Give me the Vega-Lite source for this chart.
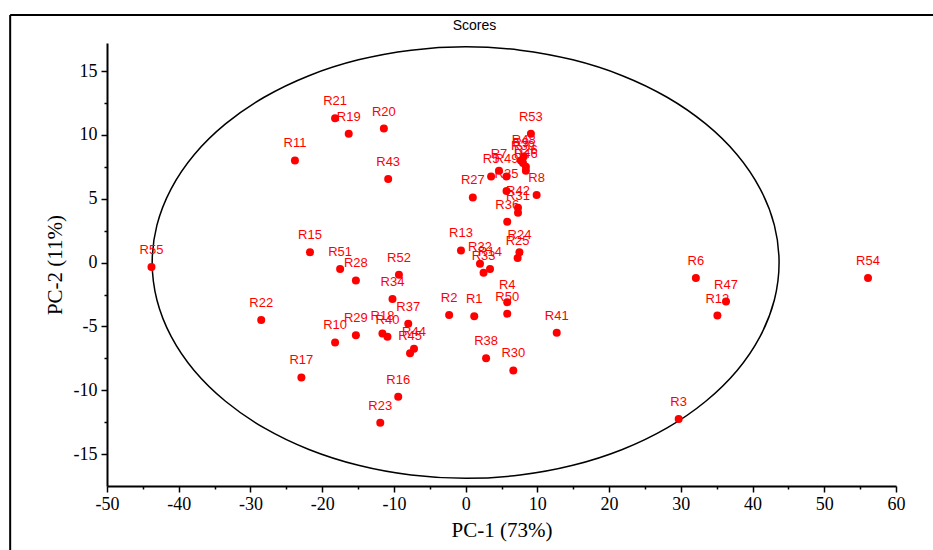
{
  "$schema": "https://vega.github.io/schema/vega-lite/v6.json",
  "width": 789,
  "height": 443,
  "autosize": {"type": "none"},
  "padding": {"left": 107, "top": 43, "right": 37, "bottom": 64},
  "background": "white",
  "config": {"view": {"stroke": null}},
  "title": {"text": "Scores", "font": "Liberation Sans", "fontSize": 14, "fontWeight": "normal", "color": "black", "offset": -19, "dx": -27},
  "datasets": {
    "frame": [
      {"x1": -63.5, "x2": 80, "y1": 19.4, "y2": -30}
    ],
    "scores": [
      {"name": "R1", "pc1": 1.2, "pc2": -4.2},
      {"name": "R2", "pc1": -2.3, "pc2": -4.1},
      {"name": "R3", "pc1": 29.7, "pc2": -12.25},
      {"name": "R4", "pc1": 5.8, "pc2": -3.1},
      {"name": "R5", "pc1": 3.55, "pc2": 6.75},
      {"name": "R6", "pc1": 32.1, "pc2": -1.2},
      {"name": "R7", "pc1": 4.65, "pc2": 7.2},
      {"name": "R8", "pc1": 9.9, "pc2": 5.3},
      {"name": "R9", "pc1": 7.7, "pc2": 8.0},
      {"name": "R10", "pc1": -18.2, "pc2": -6.25},
      {"name": "R11", "pc1": -23.8, "pc2": 8.0},
      {"name": "R12", "pc1": 35.1, "pc2": -4.15},
      {"name": "R13", "pc1": -0.65, "pc2": 0.95},
      {"name": "R14", "pc1": 3.4, "pc2": -0.5},
      {"name": "R15", "pc1": -21.7, "pc2": 0.8},
      {"name": "R16", "pc1": -9.4, "pc2": -10.5},
      {"name": "R17", "pc1": -22.9, "pc2": -9.0},
      {"name": "R18", "pc1": -11.6, "pc2": -5.55},
      {"name": "R19", "pc1": -16.3, "pc2": 10.1},
      {"name": "R20", "pc1": -11.4, "pc2": 10.5},
      {"name": "R21", "pc1": -18.2, "pc2": 11.3},
      {"name": "R22", "pc1": -28.5, "pc2": -4.5},
      {"name": "R23", "pc1": -11.9, "pc2": -12.55},
      {"name": "R24", "pc1": 7.5, "pc2": 0.8},
      {"name": "R25", "pc1": 7.25, "pc2": 0.35},
      {"name": "R26", "pc1": 8.4, "pc2": 7.5},
      {"name": "R27", "pc1": 1.0, "pc2": 5.1},
      {"name": "R28", "pc1": -15.3, "pc2": -1.4},
      {"name": "R29", "pc1": -15.3, "pc2": -5.7},
      {"name": "R30", "pc1": 6.65, "pc2": -8.45},
      {"name": "R31", "pc1": 7.3, "pc2": 3.9},
      {"name": "R32", "pc1": 2.0, "pc2": -0.1},
      {"name": "R33", "pc1": 2.5, "pc2": -0.8},
      {"name": "R34", "pc1": -10.2, "pc2": -2.85},
      {"name": "R35", "pc1": 5.7, "pc2": 5.6},
      {"name": "R36", "pc1": 5.8, "pc2": 3.2},
      {"name": "R37", "pc1": -8.0, "pc2": -4.8},
      {"name": "R38", "pc1": 2.85, "pc2": -7.5},
      {"name": "R39", "pc1": 8.0, "pc2": 7.8},
      {"name": "R40", "pc1": -10.9, "pc2": -5.8},
      {"name": "R41", "pc1": 12.7, "pc2": -5.5},
      {"name": "R42", "pc1": 7.3, "pc2": 4.3},
      {"name": "R43", "pc1": -10.8, "pc2": 6.55},
      {"name": "R44", "pc1": -7.2, "pc2": -6.75},
      {"name": "R45", "pc1": -7.75, "pc2": -7.1},
      {"name": "R46", "pc1": 8.4, "pc2": 7.2},
      {"name": "R47", "pc1": 36.3, "pc2": -3.05},
      {"name": "R48", "pc1": 8.1, "pc2": 8.3},
      {"name": "R49", "pc1": 5.7, "pc2": 6.75},
      {"name": "R50", "pc1": 5.8, "pc2": -4.0},
      {"name": "R51", "pc1": -17.5, "pc2": -0.5},
      {"name": "R52", "pc1": -9.3, "pc2": -0.95},
      {"name": "R53", "pc1": 9.1, "pc2": 10.1},
      {"name": "R54", "pc1": 56.1, "pc2": -1.2},
      {"name": "R55", "pc1": -43.8, "pc2": -0.35}
    ],
    "ellipse": [
      {"i": 0, "pc1": 43.7, "pc2": 0},
      {"i": 1, "pc1": 43.04, "pc2": 2.93},
      {"i": 2, "pc1": 41.06, "pc2": 5.78},
      {"i": 3, "pc1": 37.85, "pc2": 8.45},
      {"i": 4, "pc1": 33.48, "pc2": 10.86},
      {"i": 5, "pc1": 28.09, "pc2": 12.95},
      {"i": 6, "pc1": 21.85, "pc2": 14.64},
      {"i": 7, "pc1": 14.95, "pc2": 15.88},
      {"i": 8, "pc1": 7.59, "pc2": 16.64},
      {"i": 9, "pc1": 0, "pc2": 16.9},
      {"i": 10, "pc1": -7.59, "pc2": 16.64},
      {"i": 11, "pc1": -14.95, "pc2": 15.88},
      {"i": 12, "pc1": -21.85, "pc2": 14.64},
      {"i": 13, "pc1": -28.09, "pc2": 12.95},
      {"i": 14, "pc1": -33.48, "pc2": 10.86},
      {"i": 15, "pc1": -37.85, "pc2": 8.45},
      {"i": 16, "pc1": -41.06, "pc2": 5.78},
      {"i": 17, "pc1": -43.04, "pc2": 2.93},
      {"i": 18, "pc1": -43.7, "pc2": 0},
      {"i": 19, "pc1": -43.04, "pc2": -2.93},
      {"i": 20, "pc1": -41.06, "pc2": -5.78},
      {"i": 21, "pc1": -37.85, "pc2": -8.45},
      {"i": 22, "pc1": -33.48, "pc2": -10.86},
      {"i": 23, "pc1": -28.09, "pc2": -12.95},
      {"i": 24, "pc1": -21.85, "pc2": -14.64},
      {"i": 25, "pc1": -14.95, "pc2": -15.88},
      {"i": 26, "pc1": -7.59, "pc2": -16.64},
      {"i": 27, "pc1": 0, "pc2": -16.9},
      {"i": 28, "pc1": 7.59, "pc2": -16.64},
      {"i": 29, "pc1": 14.95, "pc2": -15.88},
      {"i": 30, "pc1": 21.85, "pc2": -14.64},
      {"i": 31, "pc1": 28.09, "pc2": -12.95},
      {"i": 32, "pc1": 33.48, "pc2": -10.86},
      {"i": 33, "pc1": 37.85, "pc2": -8.45},
      {"i": 34, "pc1": 41.06, "pc2": -5.78},
      {"i": 35, "pc1": 43.04, "pc2": -2.93}
    ]
  },
  "encoding": {
    "x": {
      "field": "pc1", "type": "quantitative",
      "scale": {"domain": [-50, 60], "nice": false, "zero": false},
      "axis": {
        "title": "PC-1 (73%)",
        "values": [-50, -45, -40, -35, -30, -25, -20, -15, -10, -5, 0, 5, 10, 15, 20, 25, 30, 35, 40, 45, 50, 55, 60],
        "labelExpr": "datum.value % 10 === 0 ? '' + datum.value : ''",
        "tickSize": {"condition": {"test": "datum.value % 10 === 0", "value": 6}, "value": 3},
        "grid": false, "labelFlush": false, "labelOverlap": false,
        "domainColor": "black", "domainWidth": 2, "tickColor": "black", "tickWidth": 1.5,
        "labelFont": "Liberation Serif", "labelFontSize": 18, "labelColor": "black", "labelPadding": 3,
        "titleFont": "Liberation Serif", "titleFontSize": 21, "titleFontWeight": "normal", "titleColor": "black", "titlePadding": 6
      }
    },
    "y": {
      "field": "pc2", "type": "quantitative",
      "scale": {"domain": [-17.5, 17.2], "nice": false, "zero": false},
      "axis": {
        "title": "PC-2 (11%)",
        "values": [-15, -12.5, -10, -7.5, -5, -2.5, 0, 2.5, 5, 7.5, 10, 12.5, 15],
        "labelExpr": "datum.value % 5 === 0 ? '' + datum.value : ''",
        "tickSize": {"condition": {"test": "datum.value % 5 === 0", "value": 6}, "value": 3},
        "grid": false, "labelFlush": false, "labelOverlap": false,
        "domainColor": "black", "domainWidth": 2, "tickColor": "black", "tickWidth": 1.5,
        "labelFont": "Liberation Serif", "labelFontSize": 18, "labelColor": "black", "labelPadding": 4,
        "titleFont": "Liberation Serif", "titleFontSize": 21, "titleFontWeight": "normal", "titleColor": "black", "titlePadding": 8
      }
    }
  },
  "layer": [
    {
      "data": {"name": "frame"},
      "mark": {"type": "rule", "color": "black", "strokeWidth": 2, "clip": false},
      "encoding": {
        "x": {"field": "x1", "type": "quantitative"},
        "y": {"field": "y1", "type": "quantitative"},
        "y2": {"field": "y2"}
      }
    },
    {
      "data": {"name": "frame"},
      "mark": {"type": "rule", "color": "black", "strokeWidth": 2, "clip": false},
      "encoding": {
        "x": {"field": "x1", "type": "quantitative"},
        "x2": {"field": "x2"},
        "y": {"field": "y1", "type": "quantitative"}
      }
    },
    {
      "mark": {"type": "rule", "color": "#808080", "strokeWidth": 1.5},
      "encoding": {"x": {"datum": 0}, "y": null}
    },
    {
      "mark": {"type": "rule", "color": "#808080", "strokeWidth": 1.5},
      "encoding": {"y": {"datum": 0}, "x": null}
    },
    {
      "data": {"name": "ellipse"},
      "mark": {"type": "line", "color": "black", "strokeWidth": 1.5, "interpolate": "cardinal-closed"},
      "encoding": {"order": {"field": "i", "type": "quantitative"}}
    },
    {
      "data": {"name": "scores"},
      "mark": {"type": "text", "color": "#ff0000", "font": "Liberation Sans", "fontSize": 13, "baseline": "middle", "align": "center", "dy": -17},
      "encoding": {"text": {"field": "name"}}
    },
    {
      "data": {"name": "scores"},
      "mark": {"type": "circle", "color": "#ff0000", "opacity": 1, "size": 64},
      "encoding": {}
    }
  ]
}
